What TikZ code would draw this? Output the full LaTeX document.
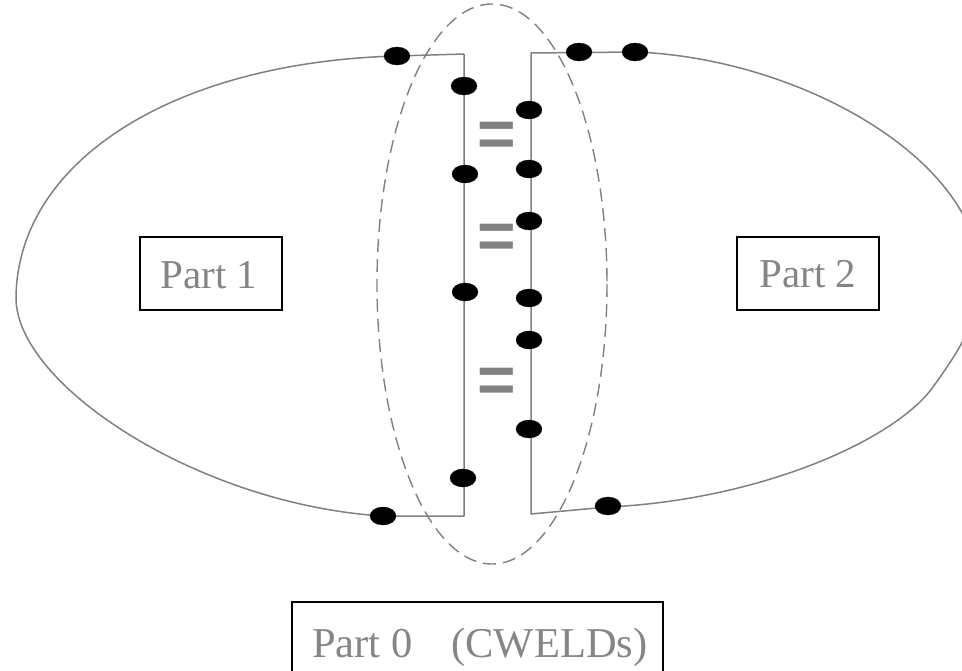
\documentclass[tikz,border=0pt]{standalone}
\usepackage{fontspec}
\setmainfont{Liberation Serif}
\newfontfamily\eqfont{Liberation Sans}
\usetikzlibrary{shapes.geometric}
\definecolor{edgegray}{HTML}{808080}
\definecolor{txtgray}{HTML}{858585}
\tikzset{
  outline/.style={draw=edgegray, line width=1.5pt, line join=round},
  weld/.style={ellipse, fill=black, draw=black, line width=0.3pt, minimum width=26pt, minimum height=18pt, inner sep=0pt},
  partbox/.style={draw=black, line width=2pt},
  parttext/.style={text=txtgray, font=\fontsize{41}{41}\selectfont, inner sep=0pt, anchor=base},
  eqsign/.style={text=edgegray, font=\eqfont\bfseries\fontsize{66}{66}\selectfont, inner sep=0pt, anchor=center},
  zone/.style={draw=edgegray, line width=1.4pt, dash pattern=on 13pt off 7pt}
}
\begin{document}
\begin{tikzpicture}[x=1pt,y=-1pt]
\useasboundingbox (0,0) rectangle (962,671);
\clip (0,0) rectangle (962,671);

% dashed zone (CWELD region)
\draw[zone] (492,284) ellipse [x radius=115, y radius=280];

% Part 1 outline
\coordinate (l0) at (16,297);
\draw[outline] (464,54) -- (397,56)
  .. controls (175,62) and (18,160) .. (l0)
  .. controls (15,385) and (200,505) .. (383,516)
  -- (464,516) -- (464,54);

% Part 2 outline
\coordinate (r0) at (980,277);
\coordinate (r1) at (933,387);
\draw[outline] (531,53) -- (635,52)
  .. controls (800,58) and (980,160) .. (r0)
  .. controls (980,320) and (958,352) .. (r1)
  .. controls (895,440) and (760,500) .. (608,507)
  -- (531,514) -- (531,53);

% equal signs
\node[eqsign] (eq1) at (497,139) {=};
\node[eqsign] (eq2) at (497,241) {=};
\node[eqsign] (eq3) at (497,385) {=};

% welds on part 1
\node[weld] (a1) at (397,56) {};
\node[weld] (a2) at (464,86) {};
\node[weld] (a3) at (465,174) {};
\node[weld] (a4) at (465,292) {};
\node[weld] (a5) at (463,478) {};
\node[weld] (a6) at (383,516) {};

% welds on part 2
\node[weld] (b1) at (579,52) {};
\node[weld] (b2) at (635,52) {};
\node[weld] (b3) at (529,110) {};
\node[weld] (b4) at (529,169) {};
\node[weld] (b5) at (529,221) {};
\node[weld] (b6) at (529,298) {};
\node[weld] (b7) at (529,340) {};
\node[weld] (b8) at (529,429) {};
\node[weld] (b9) at (608,506) {};

% labels
\draw[partbox] (140,237) rectangle (282,310);
\node[parttext] (p1) at (209,289) {Part 1};
\draw[partbox] (737,237) rectangle (879,310);
\node[parttext] (p2) at (808,288) {Part 2};
\draw[partbox] (292,602) rectangle (663,690);
\node[parttext, anchor=base west, font=\fontsize{42.5}{42.5}\selectfont] (p0) at (312,657) {Part 0\ \ \ \,(CWELDs)};
\end{tikzpicture}
\end{document}
